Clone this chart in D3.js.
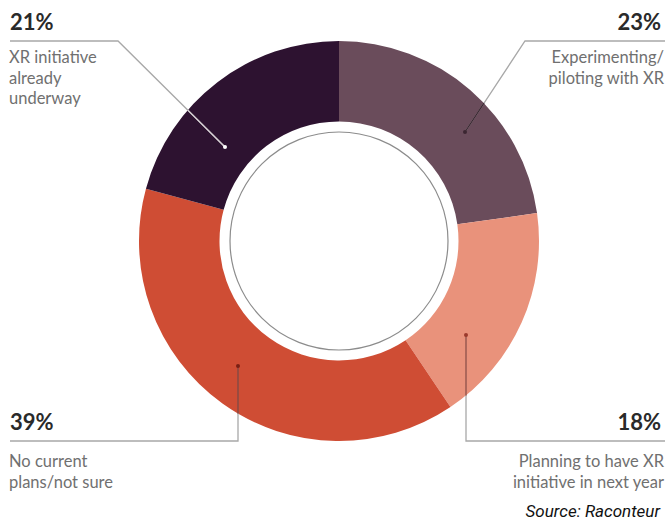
<!DOCTYPE html>
<html>
<head>
<meta charset="utf-8">
<style>
  body { margin: 0; background: #fff; }
  svg { display: block; }
  .pct { font-family: Lato, "Open Sans", sans-serif; font-weight: 700; font-size: 22px; fill: #2a2a2a; }
  .lbl { font-family: Lato, "Open Sans", sans-serif; font-size: 16.5px; fill: #707070; }
  .src { font-family: Roboto, "Liberation Sans", sans-serif; font-style: italic; font-size: 17px; fill: #111; }
</style>
</head>
<body>
<svg id="chart" width="665" height="521"></svg>
<script src="https://cdnjs.cloudflare.com/ajax/libs/d3/7.8.5/d3.min.js"></script>
<script>
// data (clockwise from 12 o'clock)
var categories = ["Experimenting/piloting with XR", "Planning to have XR initiative in next year",
                  "No current plans/not sure", "XR initiative already underway"];
var values = [23, 18, 39, 21];
var colors = ["#6a4c5b", "#e9927b", "#cf4d34", "#2d1230"];
var labelLines = [["Experimenting/", "piloting with XR"],
                  ["Planning to have XR", "initiative in next year"],
                  ["No current", "plans/not sure"],
                  ["XR initiative", "already", "underway"]];

var width = 665, height = 521;
var cx = 339, cy = 241, outerR = 200, innerR = 119.5, ringR = 109;

var svg = d3.select("#chart");

var pie = d3.pie().sort(null).value(function(d){ return d; });
var arc = d3.arc().innerRadius(innerR).outerRadius(outerR);
var arcs = pie(values);

var g = svg.append("g").attr("transform", "translate(" + cx + "," + cy + ")");
g.selectAll("path.slice")
  .data(arcs)
  .enter().append("path")
  .attr("class", "slice")
  .attr("d", arc)
  .attr("fill", function(d, i){ return colors[i]; });

g.append("circle").attr("r", ringR)
  .attr("fill", "none").attr("stroke", "#8c8c8c").attr("stroke-width", 1.2);

// annotation layout: anchor dot inside slice, elbow, line end, text side
var layout = [
  {dot: [465, 132], elbow: [525, 41], end: [665, 41], side: "right", top: true,  inColor: "#3b2631", dotColor: "#3b2631"},
  {dot: [466, 335], elbow: [466, 441], end: [665, 441], side: "right", top: false, inColor: "#a4493a", dotColor: "#9b3a2c"},
  {dot: [238, 366], elbow: [238, 441], end: [10, 441],  side: "left",  top: false, inColor: "#8c2a1c", dotColor: "#7a1f14"},
  {dot: [225, 147], elbow: [118, 41],  end: [10, 41],   side: "left",  top: true,  inColor: "#d9d0d6", dotColor: "#ffffff"}
];

function edgePoint(p, q){
  // point on segment p->q where it crosses the outer radius
  var t0 = 0, t1 = 1;
  for (var k = 0; k < 40; k++){
    var t = (t0 + t1) / 2;
    var x = p[0] + (q[0]-p[0])*t, y = p[1] + (q[1]-p[1])*t;
    var inside = Math.hypot(x-cx, y-cy) < outerR;
    if (inside) t1 = t; else t0 = t;
  }
  return [p[0] + (q[0]-p[0])*t1, p[1] + (q[1]-p[1])*t1];
}

var ann = svg.append("g");
layout.forEach(function(L, i){
  ann.append("polyline")
    .attr("points", [L.end, L.elbow, L.dot].map(function(p){ return p.join(","); }).join(" "))
    .attr("fill", "none").attr("stroke", "#a8a8a8").attr("stroke-width", 1.3);
  var e = edgePoint(L.elbow, L.dot);
  ann.append("line")
    .attr("x1", e[0]).attr("y1", e[1]).attr("x2", L.dot[0]).attr("y2", L.dot[1])
    .attr("stroke", L.inColor).attr("stroke-width", 1.3);
  ann.append("circle").attr("cx", L.dot[0]).attr("cy", L.dot[1]).attr("r", 2)
    .attr("fill", L.dotColor);

  var tx = L.side === "left" ? 10 : 661;
  var anchor = L.side === "left" ? "start" : "end";
  var lineY = L.elbow[1];
  ann.append("text").attr("class", "pct")
    .attr("x", tx).attr("y", lineY - 11)
    .attr("text-anchor", anchor)
    .text(values[i] + "%");
  var t = ann.append("text").attr("class", "lbl")
    .attr("text-anchor", anchor);
  var off = L.top ? 22 : 26;
  labelLines[i].forEach(function(s, j){
    t.append("tspan").attr("x", L.side === "left" ? 9 : 664)
      .attr("y", lineY + off + j * 20.5).text(s);
  });
});

svg.append("text").attr("class", "src")
  .attr("x", 660).attr("y", 517).attr("text-anchor", "end")
  .text("Source: Raconteur");
</script>
</body>
</html>
